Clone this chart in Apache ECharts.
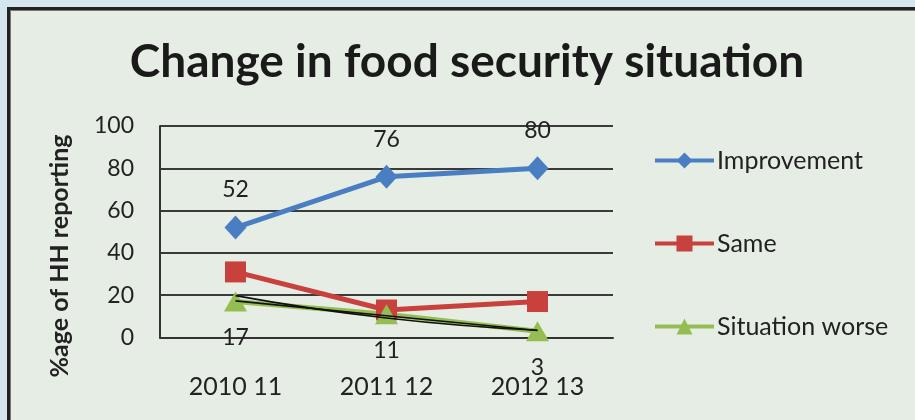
<!DOCTYPE html>
<html>
<head>
<meta charset="utf-8">
<title>Change in food security situation</title>
<script src="https://cdn.jsdelivr.net/npm/echarts@6/dist/echarts.min.js"></script>
<style>
  html, body { margin: 0; padding: 0; width: 915px; height: 420px; overflow: hidden; background: #d6e6ef; }
  #frame {
    position: absolute; left: 7px; top: 7px; width: 1000px; height: 1000px;
    background: #e6ede4; border: 3px solid #222;
    box-shadow: inset 0 0 0 1px #777;
  }
  #chart { position: absolute; left: 0; top: 0; width: 915px; height: 420px; }
</style>
</head>
<body>
<div id="frame"></div>
<div id="chart"></div>
<script>
// Survey years and share of households reporting each change (%)
const years = ['2010 11', '2011 12', '2012 13'];
const improvement = [52, 76, 80];
const same = [31, 13, 17];
const worse = [17, 11, 3];
// Trend lines fitted to the "Situation worse" series
const worseTrendExp = [19.8, 9.2, 3.4];
const worseTrendLinear = [17.3, 10.3, 3.3];
const yTicks = [0, 20, 40, 60, 80, 100];

const FONT = 'Lato, "Noto Sans", sans-serif';
const TEXT = '#222';

const chart = echarts.init(document.getElementById('chart'), null, { renderer: 'canvas' });

function mainSeries(name, data, color, symbol, size, label) {
  return {
    name, type: 'line', data,
    symbol, symbolSize: size,
    lineStyle: { color, width: 5 },
    itemStyle: { color },
    label: label,
    z: 2
  };
}

const option = {
  animation: false,
  backgroundColor: 'transparent',
  textStyle: { fontFamily: FONT },
  title: {
    text: 'Change in food security situation',
    left: 467, top: 39, textAlign: 'center', padding: 0,
    textStyle: { fontFamily: FONT, fontWeight: 'bold', fontSize: 46, color: '#1a1a1a' }
  },
  legend: {
    orient: 'vertical', left: 653, top: 148, padding: 0,
    itemWidth: 59, itemHeight: 20, itemGap: 58,
    lineStyle: { width: 4 },
    data: ['Improvement', 'Same', 'Situation worse'],
    textStyle: { fontFamily: FONT, fontSize: 25, color: TEXT, lineHeight: 25, padding: [0, 0, 0, -2] }
  },
  grid: { left: 160, top: 126, width: 453, height: 211.5, containLabel: false },
  xAxis: {
    type: 'category', data: years, boundaryGap: true,
    axisLine: { lineStyle: { color: '#333', width: 2 } },
    axisTick: { show: false },
    axisLabel: { fontFamily: FONT, fontSize: 25, color: TEXT, margin: 37 }
  },
  yAxis: {
    type: 'value', min: yTicks[0], max: yTicks[yTicks.length - 1], interval: yTicks[1] - yTicks[0],
    axisLine: { show: true, lineStyle: { color: '#333', width: 2 } },
    axisTick: { show: false },
    splitLine: { lineStyle: { color: '#3a3a3a', width: 2 } },
    axisLabel: { fontFamily: FONT, fontSize: 23, color: TEXT, margin: 26 }
  },
  graphic: [{
    type: 'text', x: 60, y: 256, rotation: Math.PI / 2,
    style: {
      text: '%age of HH reporting', fontFamily: FONT, fontWeight: 'bold', fontSize: 25,
      fill: TEXT, align: 'center', verticalAlign: 'middle'
    }
  }],
  series: [
    mainSeries('Improvement', improvement, '#4a7ec3', 'diamond', [22, 24],
      { show: true, position: 'top', distance: 14, fontFamily: FONT, fontSize: 23, color: TEXT }),
    mainSeries('Same', same, '#c9413c', 'rect', 21, { show: false }),
    mainSeries('Situation worse', worse, '#95bd52', 'triangle', [23, 20],
      { show: true, position: 'bottom', distance: 15, fontFamily: FONT, fontSize: 23, color: TEXT }),
    {
      name: 'trend-exp', type: 'line', data: worseTrendExp, smooth: true,
      symbol: 'none', silent: true, lineStyle: { color: '#111', width: 1.6 }, z: 3
    },
    {
      name: 'trend-lin', type: 'line', data: worseTrendLinear,
      symbol: 'none', silent: true, lineStyle: { color: '#111', width: 1.6 }, z: 3
    }
  ]
};

chart.setOption(option);
</script>
</body>
</html>
